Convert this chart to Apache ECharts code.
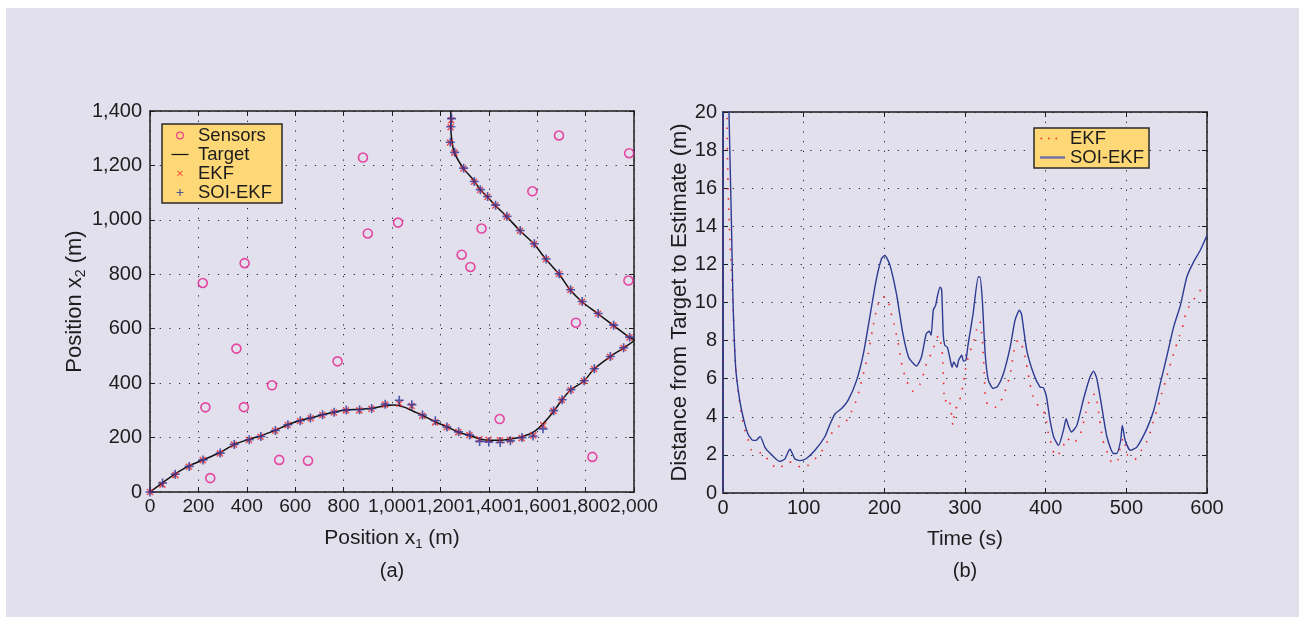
<!DOCTYPE html>
<html>
<head>
<meta charset="utf-8">
<script src="https://cdn.jsdelivr.net/npm/echarts@6/dist/echarts.min.js"></script>
<style>
  html, body { margin:0; padding:0; background:#ffffff; }
  #bg { position:absolute; left:6px; top:8px; width:1293px; height:609px; background:#e3e0ee; }
  #chart { position:absolute; left:0; top:0; width:1299px; height:617px; }
</style>
</head>
<body>
<div id="bg"></div>
<div id="chart"></div>
<script>
// ---------- Panel (a): sensor positions (m) ----------
const sensorX = [880,1690,1980,1580,1025,900,1370,1288,1324,391,218,1977,1760,357,775,504,229,388,1445,534,653,249,1828];
const sensorY = [1229,1310,1245,1105,990,950,968,872,827,841,768,777,622,527,480,392,311,312,268,118,115,51,129];

// ---------- Panel (a): target trajectory (m) ----------
const targetX = [0,48,103,161,220,289,348,410,460,517,569,620,664,712,760,810,865,915,971,1010,1050,1090,1125,1178,1226,1274,1320,1364,1405,1446,1490,1536,1584,1625,1667,1702,1738,1793,1835,1901,1956,2000,1981,1915,1851,1785,1737,1690,1636,1587,1529,1474,1427,1394,1364,1336,1295,1258,1247,1243,1243];
const targetY = [0,32,66,96,118,145,174,194,207,227,247,263,272,284,293,301,304,307,317,320,312,296,282,258,240,220,208,195,190,190,195,203,220,252,295,338,375,408,452,497,529,559,568,612,655,699,742,801,855,911,960,1012,1053,1085,1112,1147,1189,1247,1293,1342,1400];

// ---------- Panel (a): EKF estimates (m) ----------
const ekfX = [0,51,105,161,218,289,347,409,457,517,569,620,664,712,760,810,865,915,971,1030,1081,1125,1178,1226,1274,1320,1361,1399,1446,1488,1536,1584,1625,1667,1702,1738,1793,1835,1901,1956,1981,1915,1851,1785,1737,1690,1636,1587,1529,1474,1427,1394,1364,1339,1295,1258,1240,1242,1245];
const ekfY = [0,27,62,93,117,142,174,191,203,225,246,261,271,283,292,300,300,306,321,325,316,280,256,238,220,209,194,192,190,191,198,208,245,298,338,375,408,452,497,529,568,612,655,699,742,801,855,911,960,1012,1053,1085,1110,1140,1189,1247,1284,1340,1366];

// ---------- Panel (a): SOI-EKF estimates (m) ----------
const soiX = [0,52,104,162,219,290,348,410,458,518,570,621,663,713,761,811,866,916,972,1030,1082,1126,1179,1227,1275,1321,1362,1400,1447,1489,1537,1583,1624,1668,1703,1739,1794,1836,1902,1957,1982,1916,1852,1786,1738,1691,1637,1588,1530,1475,1428,1395,1365,1340,1296,1259,1241,1243,1246];
const soiY = [0,33,65,94,118,143,175,192,204,226,247,262,272,284,293,301,302,307,322,337,321,283,262,239,221,209,186,184,182,188,200,206,232,299,339,376,409,453,498,530,569,613,656,700,743,802,856,912,961,1013,1054,1086,1111,1141,1190,1248,1285,1342,1372];

// ---------- Panel (b): distance from target to estimate (m) vs time (s) ----------
const soiTime = [0,0.6,4,7.4,10.3,12.4,15.7,20.7,26,31,37,41,46,52,58,70,76.5,83,89,95,103,114,126,132,139,147,155,165.5,174,182,190,196.5,200.7,207,215,223,230,236,240,246,252,255.7,258,260.7,263.6,265.6,269,271,273,275,278,281,284,286,290,292,296,298,301,304,310,316.5,318.6,321.5,325,329,335,340.5,347.6,356,362,367.4,370,376.5,385,393,397,401,405.5,410,416,422,425.4,428,432,438.6,447,455,459.3,463.4,469.6,476,484,488,493,495,498.6,505,513,525.5,534,542,550,558.6,567,575,583.4,591.7,600];
const soiDist = [0,30,28,20,14.5,10.1,6.6,4.87,3.8,3.1,2.76,2.76,2.97,2.4,2.1,1.66,1.78,2.3,1.8,1.7,1.8,2.24,2.94,3.55,4.16,4.43,4.86,5.9,7.3,9.24,11.2,12.3,12.47,11.95,10.46,8.36,7.14,6.8,6.67,7.14,8.36,8.49,8.28,9.6,9.85,10.29,10.8,10.7,8.36,7.75,7.66,7.14,6.6,6.88,6.6,6.96,7.23,6.93,6.96,7.84,9.4,11.34,11.34,10.1,7.31,5.91,5.49,5.6,6.26,7.66,9.06,9.59,9.4,7.5,6.26,5.56,5.53,5.04,3.8,2.94,2.5,3.29,3.9,3.55,3.2,3.55,4.95,6.09,6.4,6.0,4.51,2.94,2.07,2.07,2.76,3.55,2.76,2.24,2.41,3.38,4.34,5.74,7.14,8.71,9.85,11.34,12.13,12.74,13.53];
const ekfTime = [0,0.5,3,5,6.2,8.3,11.2,13.7,15.7,18.6,22.8,26,31,35,41,49.7,57,69,79.4,87,98.5,104.7,116,125,131,139,151,159,164.7,169,176,180,185,191,197,204,208,212,215,218,220,223,227.6,234.6,244,249,253,258,263,267,271,272.3,274,275,279,281,283.4,285,287.6,292,294.6,298,300,303,306,311,314.5,318.6,320.7,322,323.6,325,328,338.5,347,351.7,356,361,366,372,375.7,380.7,384,391,399,403.4,407.6,412,420,426,434,443,450,455,461,466.7,471,476.7,483,490,492.4,496.5,501.5,510,519,527,535,540,544,548.3,552.5,556.7,561,566,570.6,574,580.6,590,596];
const ekfDist = [0,30,26,19.6,16.2,13.6,11,8.5,6.6,5.4,4.16,3.46,2.85,2.27,2.1,2.12,1.63,1.26,1.63,1.6,1.3,1.43,1.87,2.34,2.85,3.4,3.67,4.25,4.8,5.4,6.6,7.3,8.5,9.76,10.3,10.2,9.5,8.9,8.3,7.7,7.1,6.5,5.9,5.34,5.7,6.3,6.93,7.3,7.84,8.28,7.66,7.05,5.2,4.78,5.0,4.78,4.1,3.55,4.4,4.6,5.1,5.74,6.35,6.96,7.4,8.0,8.6,9.0,8.36,7.75,6.5,5.2,4.65,4.5,5.04,5.6,6.23,7.5,8.05,7.58,6.88,5.7,5.1,4.55,4.16,3.1,2.5,1.92,2.24,2.9,2.6,3.1,4.25,4.95,5.21,3.9,2.76,2.1,1.54,1.77,2.41,2.9,1.98,1.75,2.27,2.85,3.99,4.6,5.25,5.83,6.47,7.05,7.63,8.26,8.85,9.47,10.0,10.5,11.06];

const pairs = (xs, ys) => xs.map((x, i) => [x, ys[i]]);

const FONT = '"Liberation Sans", Arial, Helvetica, sans-serif';
const INK = '#1c1c1c';
const PLUS = 'path://M0,4.1H10V5.9H0Z M4.1,0H5.9V10H4.1Z';
const RED = '#ee2a2a';
const BLUE = '#2b3596';
const MAGENTA = '#e3208c';
const NAVY = '#2c3a92';

function axisBase(extra) {
  return Object.assign({
    type: 'value',
    axisLine: { show: true, onZero: false, lineStyle: { color: INK, width: 1.5 } },
    axisTick: { show: true, inside: true, length: 5, lineStyle: { color: INK, width: 1 } },
    axisLabel: { show: true, color: INK, fontSize: 20, fontFamily: FONT },
    splitLine: { show: true, lineStyle: { color: '#222', width: 1, type: [1.2, 8.5] } },
  }, extra);
}
function mirror(extra) {
  return Object.assign({
    type: 'value',
    axisLine: { show: true, onZero: false, lineStyle: { color: INK, width: 1.5 } },
    axisTick: { show: true, inside: true, length: 5, lineStyle: { color: INK, width: 1 } },
    axisLabel: { show: false },
    splitLine: { show: false },
  }, extra);
}

const richName = {
  t: { fontSize: 21, lineHeight: 26, color: INK, fontFamily: FONT },
  s: { fontSize: 13, lineHeight: 13, verticalAlign: 'bottom', color: INK, fontFamily: FONT }
};
const richNameV = {
  t: { fontSize: 22, lineHeight: 26, color: INK, fontFamily: FONT },
  s: { fontSize: 14, lineHeight: 13, verticalAlign: 'bottom', color: INK, fontFamily: FONT }
};

const chart = echarts.init(document.getElementById('chart'), null, { renderer: 'canvas' });

const option = {
  animation: false,
  backgroundColor: 'transparent',
  textStyle: { fontFamily: FONT },
  grid: [
    { left: 150, top: 111, width: 484, height: 381, containLabel: false },
    { left: 723, top: 112, width: 484, height: 381, containLabel: false }
  ],
  xAxis: [
    axisBase({ gridIndex: 0, position: 'bottom', min: 0, max: 2000, interval: 200,
      axisLabel: { show: true, color: INK, fontSize: 19.2, fontFamily: FONT, margin: 5,
        hideOverlap: false, showMinLabel: true, showMaxLabel: true },
      name: '{t|Position x}{s|1}{t| (m)}', nameLocation: 'middle', nameGap: 33,
      nameTextStyle: { rich: richName } }),
    mirror({ gridIndex: 0, position: 'top', min: 0, max: 2000, interval: 200 }),
    axisBase({ gridIndex: 1, position: 'bottom', min: 0, max: 600, interval: 100,
      axisLabel: { show: true, color: INK, fontSize: 20, fontFamily: FONT, margin: 5, showMaxLabel: true },
      name: 'Time (s)', nameLocation: 'middle', nameGap: 33,
      nameTextStyle: { fontSize: 21, color: INK, fontFamily: FONT, lineHeight: 26 } }),
    mirror({ gridIndex: 1, position: 'top', min: 0, max: 600, interval: 100 })
  ],
  yAxis: [
    axisBase({ gridIndex: 0, position: 'left', min: 0, max: 1400, interval: 200,
      axisLabel: { show: true, color: INK, fontSize: 20, fontFamily: FONT, margin: 8, showMaxLabel: true },
      name: '{t|Position x}{s|2}{t| (m)}', nameLocation: 'middle', nameGap: 60, nameRotate: 90,
      nameTextStyle: { rich: richNameV } }),
    mirror({ gridIndex: 0, position: 'right', min: 0, max: 1400, interval: 200 }),
    axisBase({ gridIndex: 1, position: 'left', min: 0, max: 20, interval: 2,
      axisLabel: { show: true, color: INK, fontSize: 20, fontFamily: FONT, margin: 6, showMaxLabel: true },
      name: 'Distance from Target to Estimate (m)', nameLocation: 'middle', nameGap: 28, nameRotate: 90,
      nameTextStyle: { fontSize: 22, color: INK, fontFamily: FONT, lineHeight: 22 } }),
    mirror({ gridIndex: 1, position: 'right', min: 0, max: 20, interval: 2 })
  ],
  legend: [
    {
      left: 162, top: 124, orient: 'vertical', itemGap: 0, itemWidth: 25, itemHeight: 14,
      padding: [2, 10, 1, 6],
      backgroundColor: '#fed877', borderColor: '#2a2a2a', borderWidth: 1.5, borderRadius: 0,
      textStyle: { color: INK, fontSize: 18.5, fontFamily: FONT, lineHeight: 18 },
      itemStyle: { borderWidth: 0 },
      selectedMode: false,
      formatter: n => n.trim(),
      data: [
        { name: 'Sensors', icon: 'path://M0,0M25,14M8,7A4,4 0 1 0 16,7A4,4 0 1 0 8,7Z M9.3,7A2.7,2.7 0 1 1 14.7,7A2.7,2.7 0 1 1 9.3,7Z',
          itemStyle: { color: MAGENTA, borderWidth: 0 } },
        { name: 'Target', icon: 'path://M0,0M25,14M3.5,6.4H20.5V7.6H3.5Z',
          itemStyle: { color: '#111', borderWidth: 0 } },
        { name: 'EKF', icon: 'path://M0,0M25,14M9.7,4.1L14.7,9.1L14.1,9.7L9.1,4.7Z M14.7,4.7L9.7,9.7L9.1,9.1L14.1,4.1Z',
          itemStyle: { color: RED, borderWidth: 0 } },
        { name: 'SOI-EKF', icon: 'path://M0,0M25,14M8.5,6.4H15.5V7.6H8.5Z M11.4,3.5H12.6V10.5H11.4Z',
          itemStyle: { color: BLUE, borderWidth: 0 } }
      ]
    },
    {
      left: 1034, top: 128, orient: 'vertical', itemGap: 0, itemWidth: 25, itemHeight: 14,
      padding: [1, 5, 1, 6],
      backgroundColor: '#fed877', borderColor: '#2a2a2a', borderWidth: 1.5, borderRadius: 0,
      textStyle: { color: INK, fontSize: 18.5, fontFamily: FONT, lineHeight: 18 },
      itemStyle: { borderWidth: 0 },
      selectedMode: false,
      formatter: n => n.trim(),
      data: [
        { name: 'EKF ', icon: 'path://M0,0M25,14M0.5,6.2h1.6v1.6h-1.6Z M8,6.2h1.6v1.6h-1.6Z M15.5,6.2h1.6v1.6h-1.6Z',
          itemStyle: { color: RED, borderWidth: 0 } },
        { name: 'SOI-EKF ', icon: 'path://M0,0M25,14M0,5.8H25V8.2H0Z',
          itemStyle: { color: '#6b6fa6', borderWidth: 0 } }
      ]
    }
  ],
  graphic: [
    { type: 'text', x: 392, y: 571, style: { text: '(a)', font: '20px ' + FONT, fill: INK, align: 'center', verticalAlign: 'middle' } },
    { type: 'text', x: 965, y: 571, style: { text: '(b)', font: '20px ' + FONT, fill: INK, align: 'center', verticalAlign: 'middle' } }
  ],
  series: [
    { name: 'Sensors', type: 'scatter', xAxisIndex: 0, yAxisIndex: 0, data: pairs(sensorX, sensorY),
      symbol: 'circle', symbolSize: 9,
      itemStyle: { color: 'rgba(0,0,0,0)', borderColor: MAGENTA, borderWidth: 1.6 }, z: 3 },
    { name: 'Target', type: 'line', xAxisIndex: 0, yAxisIndex: 0, data: pairs(targetX, targetY),
      symbol: 'none', smooth: 0.3, lineStyle: { color: '#111', width: 1.5 }, itemStyle: { color: '#111' }, z: 4 },
    { name: 'EKF', type: 'scatter', xAxisIndex: 0, yAxisIndex: 0, data: pairs(ekfX, ekfY),
      symbol: PLUS, symbolSize: 8.5, symbolRotate: 45, itemStyle: { color: RED }, z: 5 },
    { name: 'SOI-EKF', type: 'scatter', xAxisIndex: 0, yAxisIndex: 0, data: pairs(soiX, soiY),
      symbol: PLUS, symbolSize: 9, itemStyle: { color: BLUE }, z: 6 },
    { name: 'EKF ', type: 'line', xAxisIndex: 2, yAxisIndex: 2, data: pairs(ekfTime, ekfDist),
      symbol: 'none', smooth: 0.2, clip: true,
      lineStyle: { color: RED, width: 1.6, type: [1.6, 8.5] }, itemStyle: { color: RED }, z: 4 },
    { name: 'SOI-EKF ', type: 'line', xAxisIndex: 2, yAxisIndex: 2, data: pairs(soiTime, soiDist),
      symbol: 'none', smooth: 0.2, clip: true,
      lineStyle: { color: NAVY, width: 1.4 }, itemStyle: { color: NAVY }, z: 5 }
  ]
};
chart.setOption(option);
</script>
</body>
</html>
